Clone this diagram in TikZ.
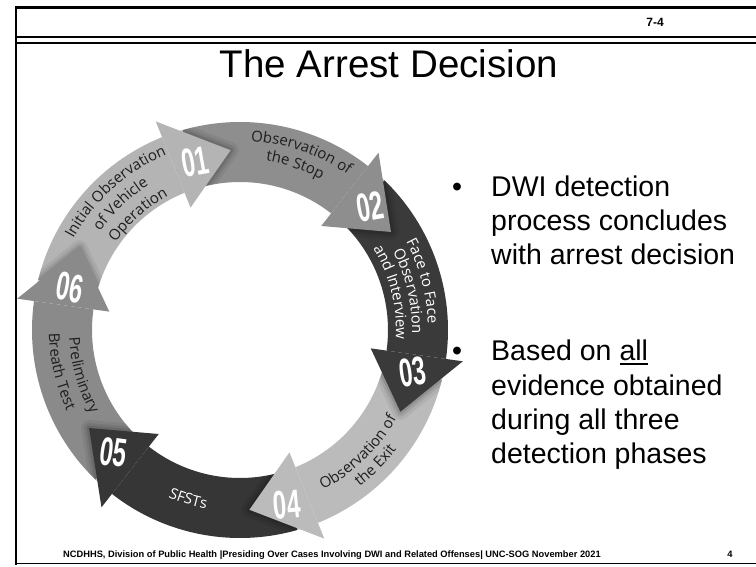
\documentclass[tikz,border=0pt]{standalone}
\usepackage{fontspec}
\setmainfont{Liberation Sans}
\newfontfamily\lblfont{Open Sans}
\usetikzlibrary{decorations.text}
\definecolor{cA}{HTML}{B4B4B4}
\definecolor{cB}{HTML}{8E8E8E}
\definecolor{cC}{HTML}{3A3A3A}
\definecolor{cD}{HTML}{BBBBBB}
\definecolor{cE}{HTML}{363636}
\definecolor{cF}{HTML}{8A8A8A}
\definecolor{txtd}{HTML}{1E1E1E}
\newcommand\myul[1]{{\setbox0\hbox{#1}\rlap{\rule[-4.5pt]{\wd0}{2pt}}\box0}}
\newcommand\lblsize{\fontsize{15}{18}\selectfont}
\newcommand\cwlabel[4]{%
  \pgfmathsetmacro\myaS{#1+45}\pgfmathsetmacro\myaE{#1-45}%
  \path[decorate, decoration={text along path, text align=center,
     text={|\lblfont\lblsize\color{#3}|#4}}]
     (\myaS:#2pt) arc[start angle=\myaS, end angle=\myaE, radius=#2pt];}
\newcommand\ccwlabel[4]{%
  \pgfmathsetmacro\myaS{#1-45}\pgfmathsetmacro\myaE{#1+45}%
  \path[decorate, decoration={text along path, text align=center,
     text={|\lblfont\lblsize\color{#3}|#4}}]
     (\myaS:#2pt) arc[start angle=\myaS, end angle=\myaE, radius=#2pt];}
\tikzset{
  numst/.style={text=white, inner sep=0pt, font=\fontsize{40}{40}\selectfont\bfseries},
  btxt/.style={anchor=base west, inner sep=0pt, font=\fontsize{28.5}{34}\selectfont},
  bdot/.style={anchor=base, inner sep=0pt, font=\fontsize{28.5}{34}\selectfont},
  foottxt/.style={inner sep=0pt, font=\bfseries\fontsize{9.3}{11}\selectfont},
}
\begin{document}
\begin{tikzpicture}[x=1pt,y=1pt]
\useasboundingbox (0,0) rectangle (756,566);
% frame
\draw[line width=3pt] (15,558.5) -- (800,558.5);
\draw[line width=2.5pt] (16.2,560) -- (16.2,1.5);
\draw[line width=1.8pt] (15,2.5) -- (800,2.5);
\draw[line width=1.3pt] (16,529) -- (800,529);
\draw[line width=1.3pt] (16,523) -- (800,523);
% header / title
\node[anchor=base, inner sep=0pt, font=\bfseries\fontsize{12}{14}\selectfont] (pg) at (655,539) {7-4};
\node[anchor=base, inner sep=0pt, font=\fontsize{38.5}{44}\selectfont] (title) at (389,488) {The Arrest Decision};
% ring
\begin{scope}[shift={(240,236)}]
\foreach \s/\e/\c in {166/112/cA, 106/52/cB, 46/-8/cC, -14/-68/cD, -74/-128/cE, -134/-188/cF}{
  \fill[\c] (\s:208pt) arc[start angle=\s, end angle=\e, radius=208pt] -- (\e:148pt)
     arc[start angle=\e, end angle=\s, radius=148pt] -- cycle;
}
\begin{scope}[even odd rule]
\clip (0,0) circle[radius=208pt] (0,0) circle[radius=148pt];
\foreach \t in {93,33,-27,-87,-147,-207}{
  \pgfmathsetmacro\b{\t+19}
  \foreach \w/\o in {16/0.06, 10/0.08, 5/0.1}{
    \draw[black, opacity=\o, line width=\w pt, line join=round] (\b:225pt) -- (\t:180pt) -- (\b:132pt);
  }
}
\end{scope}
\foreach \t/\c in {93/cA, 33/cB, -27/cC, -87/cD, -147/cE, -207/cF}{
  \pgfmathsetmacro\b{\t+19}
  \fill[\c] (\b:225pt) -- (\t:180pt) -- (\b:132pt) -- cycle;
}
% numbers
\node[numst, rotate=10] (n1) at (105:174pt) {\scalebox{0.6}[1]{01}};
\node[numst, rotate=10] (n2) at (43.4:179pt) {\scalebox{0.6}[1]{02}};
\node[numst, rotate=8] (n3) at (-13.6:178pt) {\scalebox{0.6}[1]{03}};
\node[numst, rotate=5] (n4) at (-75:181pt) {\scalebox{0.6}[1]{04}};
\node[numst, rotate=-8] (n5) at (-136:176pt) {\scalebox{0.6}[1]{05}};
\node[numst, rotate=-10] (n6) at (166:175pt) {\scalebox{0.6}[1]{06}};
% labels
\cwlabel{132}{190}{txtd}{Initial Observation}
\cwlabel{133.5}{171}{txtd}{of Vehicle}
\cwlabel{131.5}{152}{txtd}{Operation}
\cwlabel{71}{189}{txtd}{Observation of}
\cwlabel{71.5}{171}{txtd}{the Stop}
\cwlabel{15}{188}{white}{Face to Face}
\cwlabel{13}{172}{white}{Observation}
\cwlabel{14}{156}{white}{and Interview}
\ccwlabel{-46}{180}{txtd}{Observation of}
\ccwlabel{-45}{197}{txtd}{the Exit}
\ccwlabel{-107}{182}{white}{SFSTs}
\ccwlabel{196}{171}{txtd}{Preliminary}
\ccwlabel{193}{191}{txtd}{Breath Test}
\end{scope}
% bullets
\node[bdot] (d1) at (457,369) {\textbullet};
\node[btxt] (b1a) at (491,369) {DWI detection};
\node[btxt] (b1b) at (491,335) {process concludes};
\node[btxt] (b1c) at (491,301) {with arrest decision};
\node[bdot] (d2) at (457,205) {\textbullet};
\node[btxt] (b2a) at (491,205) {Based on \myul{all}};
\node[btxt] (b2b) at (491,171) {evidence obtained};
\node[btxt] (b2c) at (491,137) {during all three};
\node[btxt] (b2d) at (491,103) {detection phases};
% footer
\node[foottxt, anchor=base west] (foot) at (63,9) {NCDHHS, Division of Public Health |Presiding Over Cases Involving DWI and Related Offenses| UNC-SOG November 2021};
\node[foottxt, anchor=base] (pnum) at (730,9) {4};
\end{tikzpicture}
\end{document}
